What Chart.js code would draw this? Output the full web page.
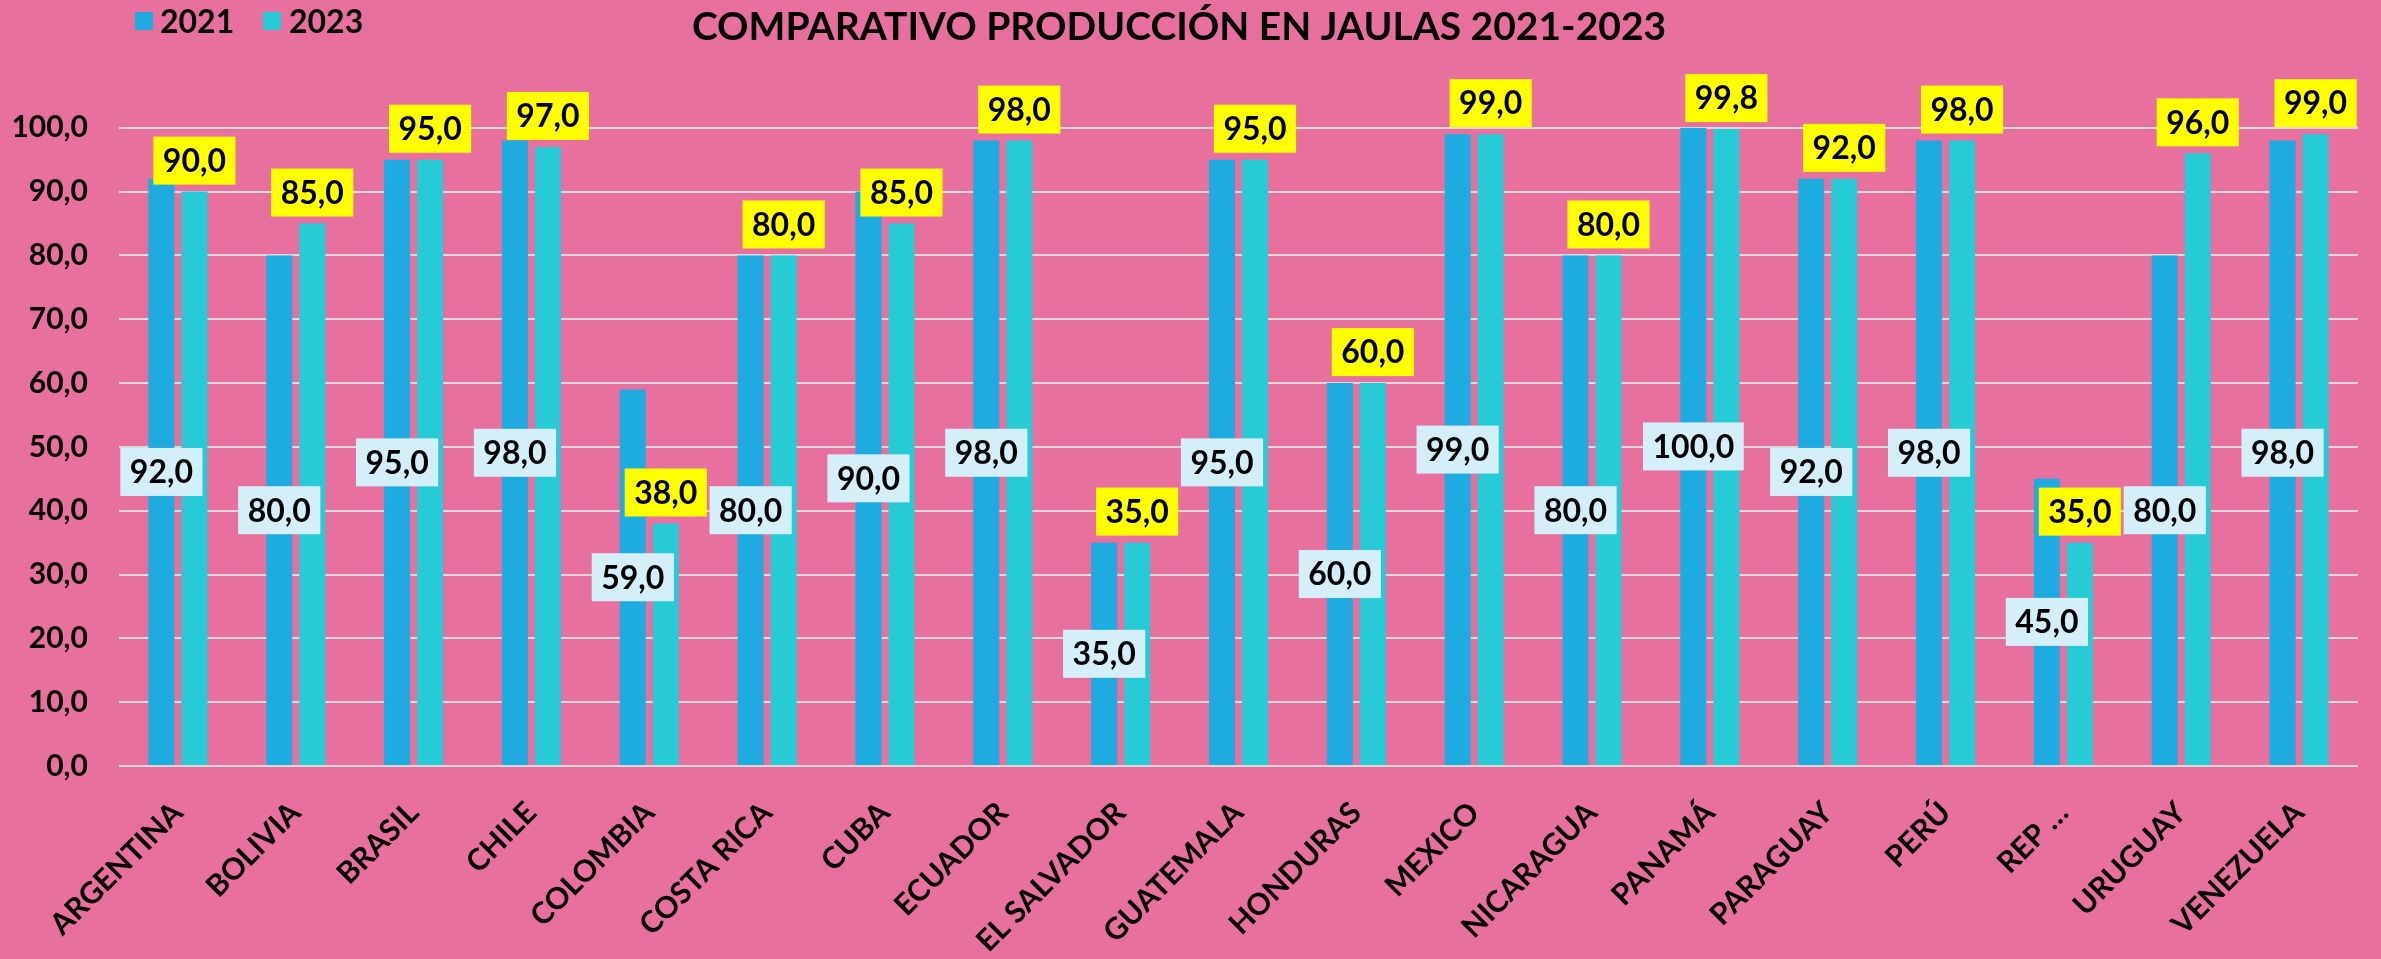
<!DOCTYPE html>
<html>
<head>
<meta charset="utf-8">
<script src="https://cdn.jsdelivr.net/npm/chart.js@4/dist/chart.umd.min.js"></script>
<style>
  html, body { margin: 0; padding: 0; background: #E8709F; }
  #wrap { position: relative; width: 2381px; height: 959px; }
  #legend { position: absolute; left: 135px; top: 5px; height: 32px; font: bold 32px Lato, sans-serif; color: #000; }
  #legend span { position: absolute; top: 0; line-height: 32px; white-space: nowrap; }
  #legend i { position: absolute; top: 7px; width: 18px; height: 18px; }
</style>
</head>
<body>
<div id="wrap">
  <canvas id="chart"></canvas>
  <div id="legend">
    <i style="left:0;background:#1EABE0"></i><span style="left:25px">2021</span>
    <i style="left:128px;background:#27CBD6"></i><span style="left:154px">2023</span>
  </div>
</div>
<script>
const countries = ['ARGENTINA', 'BOLIVIA', 'BRASIL', 'CHILE', 'COLOMBIA', 'COSTA RICA', 'CUBA', 'ECUADOR',
  'EL SALVADOR', 'GUATEMALA', 'HONDURAS', 'MEXICO', 'NICARAGUA', 'PANAMÁ', 'PARAGUAY', 'PERÚ', 'REP …',
  'URUGUAY', 'VENEZUELA'];
const values2021 = [92, 80, 95, 98, 59, 80, 90, 98, 35, 95, 60, 99, 80, 100, 92, 98, 45, 80, 98];
const values2023 = [90, 85, 95, 97, 38, 80, 85, 98, 35, 95, 60, 99, 80, 99.8, 92, 98, 35, 96, 99];
const yTicks = [0, 10, 20, 30, 40, 50, 60, 70, 80, 90, 100];

const fmt = v => v.toFixed(1).replace('.', ',');

// boxed value labels: 2021 centred in the bar, 2023 above the bar
const boxLabels = {
  id: 'boxLabels',
  afterDatasetsDraw(chart) {
    const c = chart.ctx;
    c.save();
    c.font = 'bold 32px Lato, sans-serif';
    c.textAlign = 'center';
    c.textBaseline = 'middle';
    chart.data.datasets.forEach((ds, di) => {
      chart.getDatasetMeta(di).data.forEach((bar, i) => {
        const txt = fmt(ds.data[i]);
        const w = c.measureText(txt).width + 19;
        const h = 48;
        let cy;
        if (di === 0) {
          cy = (bar.y + bar.base) / 2;
          c.fillStyle = '#D5EFF9';
        } else {
          cy = bar.y - 7 - h / 2;
          c.fillStyle = '#FFFF00';
        }
        c.fillRect(bar.x - w / 2, cy - h / 2, w, h);
        c.fillStyle = '#000';
        c.fillText(txt, bar.x, cy + 1);
      });
    });
    c.restore();
  }
};

new Chart(document.getElementById('chart'), {
  type: 'bar',
  data: {
    labels: countries,
    datasets: [
      {
        label: '2021',
        data: values2021,
        backgroundColor: '#1EABE0',
        categoryPercentage: 0.56,
        barPercentage: 0.79
      },
      {
        label: '2023',
        data: values2023,
        backgroundColor: '#27CBD6',
        categoryPercentage: 0.56,
        barPercentage: 0.79
      }
    ]
  },
  options: {
    responsive: true,
    maintainAspectRatio: false,
    animation: false,
    layout: { padding: { left: 0, right: 23, top: 0, bottom: 0 } },
    plugins: {
      legend: { display: false },
      tooltip: { enabled: false },
      title: {
        display: true,
        text: 'COMPARATIVO PRODUCCIÓN EN JAULAS 2021-2023',
        color: '#000',
        font: { family: 'Lato', size: 39, weight: 'bold', lineHeight: 1.2 },
        padding: { top: 4, bottom: 77 }
      }
    },
    scales: {
      x: {
        grid: { display: false },
        border: { display: false },
        afterFit: s => { s.height = 193; },
        ticks: {
          color: '#000',
          autoSkip: false,
          minRotation: 45,
          maxRotation: 45,
          padding: 21,
          font: { family: 'Lato', size: 30, weight: 'bold' }
        }
      },
      y: {
        min: 0,
        max: 100,
        afterFit: s => { s.width = 119; },
        afterBuildTicks: s => { s.ticks = yTicks.map(v => ({ value: v })); },
        grid: { color: '#D9D9D9', lineWidth: 2, drawTicks: false },
        border: { display: false },
        ticks: {
          color: '#000',
          padding: 31,
          font: { family: 'Lato', size: 30, weight: 'bold' },
          callback: v => fmt(v)
        }
      }
    }
  },
  plugins: [boxLabels]
});
</script>
</body>
</html>
